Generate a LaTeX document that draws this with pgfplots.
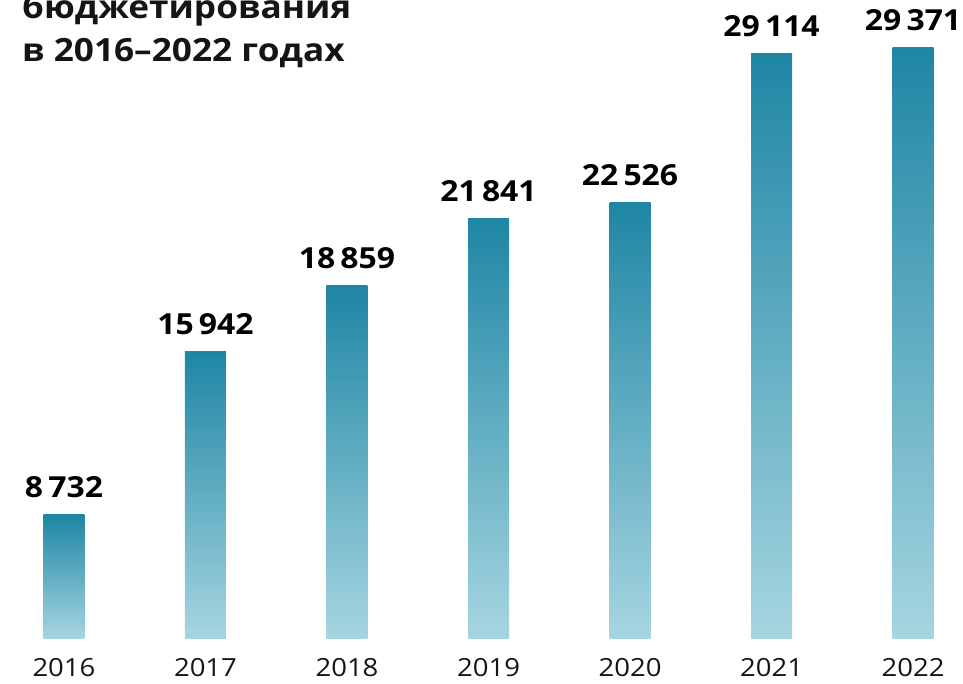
\documentclass[border=0pt]{standalone}
\usepackage{fontspec}
\setmainfont{Open Sans}
\newfontfamily\widefont[FakeStretch=1.1]{Open Sans}
\usepackage{pgfplots}
\pgfplotsset{compat=1.18}
\definecolor{barTop}{HTML}{1E86A5}
\definecolor{barBot}{HTML}{A6D5E0}
\definecolor{txt}{HTML}{151515}
\begin{document}
\begin{tikzpicture}[x=1pt,y=1pt]
\useasboundingbox (0,0) rectangle (963,683);
\begin{axis}[
  at={(0pt,45pt)}, anchor=south west,
  scale only axis, width=963pt, height=638pt,
  xmin=-0.452, xmax=6.353, ymin=3296, ymax=31492,
  axis line style={draw=none}, major tick style={draw=none},
  ytick=\empty,
  xtick={0,1,2,3,4,5,6},
  xticklabels={2016,2017,2018,2019,2020,2021,2022},
  xticklabel style={anchor=base, yshift=-34pt, font=\widefont\fontsize{25}{28}\selectfont, text=txt},
  ybar, bar width=41pt, bar shift=0pt,
  nodes near coords={\pgfmathprintnumber[fixed, precision=0, 1000 sep={\hspace{0.18em}}, assume math mode=true]{\pgfplotspointmeta}},
  every node near coord/.append style={anchor=base, yshift=17pt, font=\bfseries\widefont\fontsize{29}{34}\selectfont, text=black},
  clip=false,
  barstyle/.style={draw=none, top color=barTop, bottom color=barBot},
]
\addplot[barstyle] coordinates {(0,8732)};
\addplot[barstyle] coordinates {(1,15942)};
\addplot[barstyle] coordinates {(2,18859)};
\addplot[barstyle] coordinates {(3,21841)};
\addplot[barstyle] coordinates {(4,22526)};
\addplot[barstyle] coordinates {(5,29114)};
\addplot[barstyle] coordinates {(6,29371)};
\end{axis}
\node[anchor=base west, font=\bfseries\widefont\fontsize{32}{38}\selectfont, text=txt, inner sep=0pt] at (22,664) {бюджетирования};
\node[anchor=base west, font=\bfseries\widefont\fontsize{32}{38}\selectfont, text=txt, inner sep=0pt] at (22,621) {в 2016–2022 годах};
\end{tikzpicture}
\end{document}
